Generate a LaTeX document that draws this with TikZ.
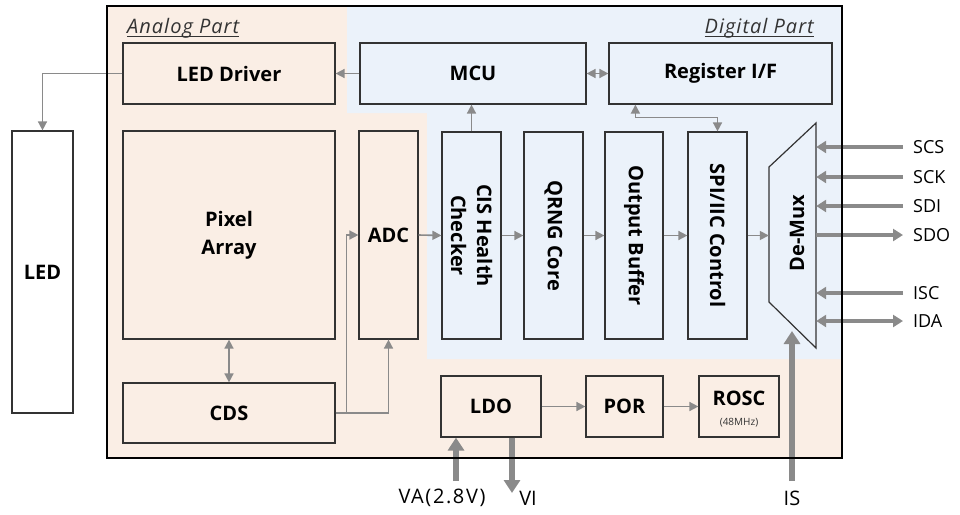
\documentclass[tikz,border=0pt]{standalone}
\usepackage{fontspec}
\setmainfont{Open Sans}
\usetikzlibrary{arrows.meta,calc}
\definecolor{peach}{HTML}{FAEEE5}
\definecolor{dblue}{HTML}{EBF2FA}
\definecolor{arr}{HTML}{8A8A8A}
\definecolor{bord}{HTML}{333333}
\begin{document}
\begin{tikzpicture}[x=1pt,y=-1pt,
 blk/.style={draw=bord, line width=1.2pt, inner sep=0pt, font=\bfseries\fontsize{20}{28}\selectfont, align=center},
 thinarr/.style={draw=arr, line width=1.6pt, -{Triangle[length=9pt,width=9pt]}},
 thinboth/.style={draw=arr, line width=1.6pt, {Triangle[length=9pt,width=9pt]}-{Triangle[length=9pt,width=9pt]}},
 pinarr/.style={draw=arr, line width=4.5pt, -{Triangle[length=10pt,width=12pt]}},
 pinboth/.style={draw=arr, line width=4.5pt, {Triangle[length=10pt,width=12pt]}-{Triangle[length=10pt,width=12pt]}},
 pwrarr/.style={draw=arr, line width=6pt, -{Triangle[length=13pt,width=16pt]}},
 pinlbl/.style={font=\fontsize{18}{21}\selectfont, inner sep=0pt},
 botlbl/.style={font=\fontsize{20}{23}\selectfont, inner sep=0pt},
 vlbl/.style={font=\bfseries\fontsize{20}{26}\selectfont, align=center, rotate=-90},
 partlbl/.style={font=\itshape\fontsize{20}{23}\selectfont\addfontfeature{LetterSpace=5}, text=bord, inner sep=0pt},
]
\useasboundingbox (0,0) rectangle (960,514);
% backgrounds
\fill[peach] (107,6) rectangle (842,458);
\fill[dblue] (347,7) -- (842,7) -- (842,359) -- (427,359) -- (427,113) -- (347,113) -- cycle;

% part labels
\node[partlbl, anchor=base west] (alab) at (127,33) {Analog Part};
\draw[bord, line width=0.8pt] ([yshift=-3pt]alab.base west) -- ([yshift=-3pt]alab.base east);
\node[partlbl, anchor=base east] (dlab) at (814,33) {Digital Part};
\draw[bord, line width=0.8pt] ([yshift=-3pt]dlab.base west) -- ([yshift=-3pt]dlab.base east);

% blocks
\node[blk, minimum width=212, minimum height=61] (drv) at (229,73.5) {LED Driver};
\node[blk, minimum width=226, minimum height=61] (mcu) at (473,73.5) {MCU};
\node[blk, minimum width=223, minimum height=61] (reg) at (720.5,73.5) {Register I/F};
\node[blk, minimum width=212, minimum height=208] (pix) at (229,235) {Pixel\\Array};
\node[blk, minimum width=59, minimum height=208] (adc) at (388.5,235) {ADC};
\node[blk, minimum width=59, minimum height=207] (cis) at (471.5,235.5) {};
\node[vlbl] at (cis) {CIS Health\\Checker};
\node[blk, minimum width=59, minimum height=207] (qrng) at (553.5,235.5) {};
\node[vlbl] at (qrng) {QRNG Core};
\node[blk, minimum width=58, minimum height=207] (obuf) at (634,235.5) {};
\node[vlbl] at (obuf) {Output Buffer};
\node[blk, minimum width=59, minimum height=207] (spi) at (717.5,235.5) {};
\node[vlbl] at (spi) {SPI/IIC Control};
\node[blk, minimum width=212, minimum height=60] (cds) at (229,413) {CDS};
\node[blk, minimum width=100, minimum height=61] (ldo) at (491,406.5) {LDO};
\node[blk, minimum width=77, minimum height=61] (por) at (624.5,406.5) {POR};
\node[blk, minimum width=80, minimum height=61] (rosc) at (739,406.5) {};
\node[font=\bfseries\fontsize{20}{24}\selectfont, inner sep=0pt] at (739,398) {ROSC};
\node[font=\fontsize{10}{11}\selectfont, inner sep=0pt, text=bord] at (739,423) {(48MHz)};
\node[blk, fill=white, minimum width=61, minimum height=282] (led) at (42.5,272) {LED};

% De-Mux
\draw[bord, line width=1.2pt, fill=dblue] (769,167) -- (816,123) -- (816,348) -- (769,302) -- cycle;
\node[minimum width=47, minimum height=225, inner sep=0pt] (dmx) at (792.5,235.5) {};
\node[font=\bfseries\fontsize{20}{26}\selectfont, rotate=90] at (797,233) {De-Mux};

% thin connectors
\draw[thinarr] (drv.west) -| (led.north);
\draw[thinarr] (mcu.west) -- (drv.east);
\draw[thinboth] (mcu.east) -- (reg.west);
\draw[thinarr] (cis.north) -- (cis.north |- mcu.south);
\draw[thinboth] ($(reg.south west)+(27,0)$) -- ++(0,13) -| (spi.north);
\draw[thinboth] (pix.south) -- (cds.north);
\draw[thinarr] (cds.east) -- ++(11,0) |- (adc.west);
\draw[thinarr] (cds.east) -| (adc.south);
\draw[thinarr] (adc.east) -- (cis.west);
\draw[thinarr] (cis.east) -- (qrng.west);
\draw[thinarr] (qrng.east) -- (obuf.west);
\draw[thinarr] (obuf.east) -- (spi.west);
\draw[thinarr] (spi.east) -- (spi.east -| dmx.west);
\draw[thinarr] (ldo.east) -- (por.west);
\draw[thinarr] (por.east) -- (rosc.west);

% pins
\coordinate (pSCS) at (903,147);
\coordinate (pSCK) at (903,177);
\coordinate (pSDI) at (903,206);
\coordinate (pSDO) at (903,235);
\coordinate (pISC) at (903,293);
\coordinate (pIDA) at (903,321);
\draw[pinarr] (pSCS) -- (pSCS -| dmx.east);
\draw[pinarr] (pSCK) -- (pSCK -| dmx.east);
\draw[pinarr] (pSDI) -- (pSDI -| dmx.east);
\draw[pinarr] (pSDO -| dmx.east) -- (pSDO);
\draw[pinarr] (pISC) -- (pISC -| dmx.east);
\draw[pinboth] (pIDA -| dmx.east) -- (pIDA);
\node[pinlbl, anchor=west] at (913,147) {SCS};
\node[pinlbl, anchor=west] at (913,177) {SCK};
\node[pinlbl, anchor=west] at (913,206) {SDI};
\node[pinlbl, anchor=west] at (913,235) {SDO};
\node[pinlbl, anchor=west] at (913,293) {ISC};
\node[pinlbl, anchor=west] at (913,321) {IDA};

% power / IS
\coordinate (pVA) at (456,481);
\coordinate (pVI) at (512,493);
\coordinate (pIS) at (792,481);
\coordinate (isTip) at (792,331);
\draw[pwrarr] (pVA) -- (pVA |- ldo.south);
\draw[pwrarr] (pVI |- ldo.south) -- (pVI);
\draw[pwrarr] (pIS) -- (isTip);
\node[botlbl, font=\fontsize{20}{23}\selectfont\addfontfeature{LetterSpace=8}] at (442,498) {VA(2.8V)};
\node[botlbl] at (528,498) {VI};
\node[botlbl] at (792,498) {IS};

% outer border
\draw[black, line width=2pt] (107,6) rectangle (842,458);
\end{tikzpicture}
\end{document}
